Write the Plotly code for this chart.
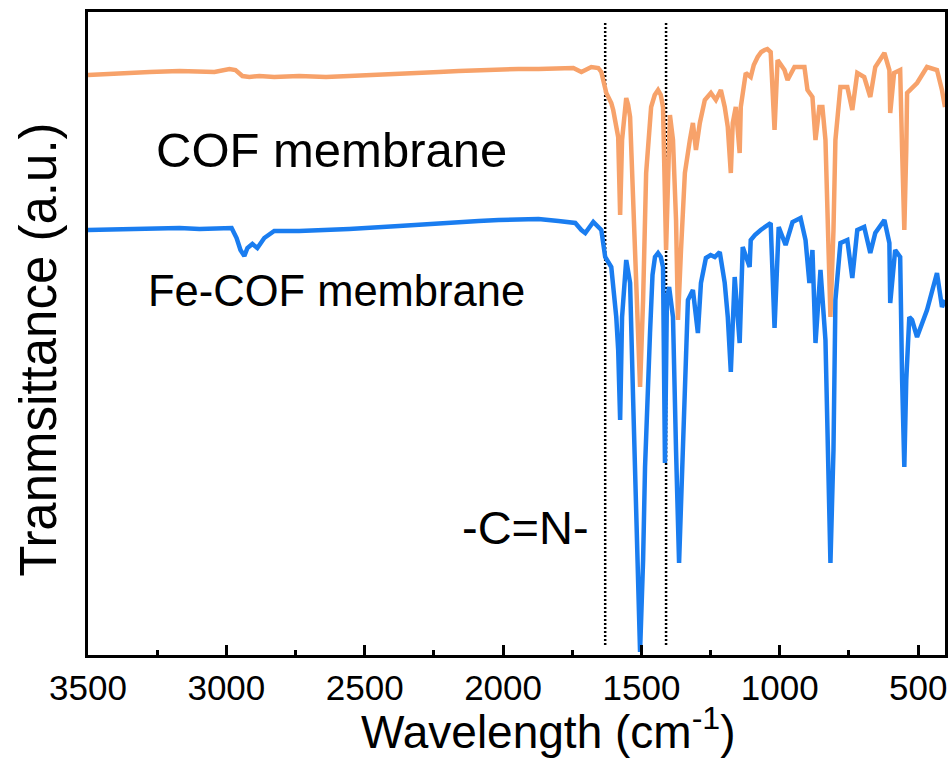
import plotly.graph_objects as go

# ---- data (wavenumber in cm-1, transmittance in a.u.) ----
cof_wn = [3500, 3385, 3277, 3169, 3097, 3043, 2989, 2967, 2942, 2917, 2881, 2827, 2737, 2640, 2556, 2448,
          2376, 2304, 2232, 2160, 2088, 2016, 1944, 1872, 1800, 1746, 1717, 1681, 1656, 1645, 1627,
          1609, 1602, 1590, 1584, 1577, 1570, 1555, 1548, 1541, 1527, 1515, 1505, 1494, 1483, 1465,
          1452, 1440, 1430, 1422, 1411,
          1397, 1386, 1375, 1368, 1357, 1343, 1325, 1314, 1303, 1289, 1271, 1249, 1231, 1213, 1199,
          1188, 1177, 1170, 1159, 1145, 1141, 1123, 1105, 1094, 1080, 1067, 1055, 1045, 1033, 1019,
          1008, 983, 972, 947, 911, 900, 882, 871, 857, 846, 835, 824, 817, 806, 799, 781, 756, 738,
          720, 695, 673, 655, 622, 604, 601, 587, 565, 558, 550, 543, 540, 504, 468,
          432, 414, 403]
cof_t = [580, 582, 583, 584, 584, 583, 586, 585, 579, 578, 579, 578, 579, 578, 579, 580,
         581, 582, 583, 584, 585, 585, 586, 586, 586, 587, 583, 588, 587, 583, 562,
         552, 545, 530, 518, 440, 515, 557, 550, 538, 425, 330, 268, 355, 482, 548,
         560, 565, 560, 548, 405,
         540, 515, 435, 335, 405, 482, 515, 532, 505, 532, 555, 562, 555, 565, 548,
         528, 482, 532, 548, 502, 548, 582, 578, 590, 598, 603, 605, 606, 603, 525,
         595, 585, 575, 588, 588, 565, 558, 515, 548, 548, 515, 425, 338, 425, 515, 568, 568, 545,
         582, 578, 558, 588, 602, 585, 542, 582, 585, 505, 425, 505, 562, 572, 588,
         585, 565, 548]

fecof_wn = [3500, 3385, 3277, 3169, 3097, 3007, 2981, 2963, 2949, 2935, 2924, 2906, 2888, 2863, 2827,
            2737, 2640, 2556, 2376, 2268, 2196, 2088, 2016, 1944, 1872, 1800, 1739, 1717, 1703, 1674, 1645,
            1631, 1609, 1591, 1584, 1577, 1570, 1555, 1541, 1530, 1519, 1505, 1494, 1487, 1469, 1460,
            1451, 1440, 1430, 1422, 1415, 1408, 1400, 1386, 1375, 1364, 1354, 1343, 1332, 1314, 1296,
            1285, 1267, 1250, 1235, 1217, 1199, 1188, 1177, 1163, 1145, 1134, 1109, 1105, 1090, 1069,
            1045, 1033, 1019, 1004, 979, 954, 925, 907, 893, 882, 871, 853, 835, 824, 817, 806, 799,
            781, 756, 738, 720, 695, 673, 655, 622, 604, 601, 583, 565, 558, 550, 543, 532, 522, 504,
            468, 432, 414, 403]
fecof_t = [425, 426, 427, 427, 426, 427, 427, 417, 405, 399, 407, 411, 407, 417, 424,
           424, 425, 426, 429, 431, 433, 434, 435, 436, 436, 434, 432, 425, 422, 433, 425,
           398, 388, 338, 305, 235, 338, 395, 372, 255, 135, 3, 95, 188, 322, 380,
           398, 402, 398, 388, 192, 355, 368, 338, 205, 92, 175, 255, 355, 365, 322,
           372, 397, 400, 398, 403, 372, 338, 283, 378, 312, 408, 388, 415, 420, 425,
           430, 432, 327, 428, 410, 433, 437, 415, 372, 405, 312, 385, 315, 175, 92, 205, 355,
           412, 415, 377, 425, 428, 402, 422, 435, 412, 352, 405, 398, 275, 188, 275, 338, 335, 318,
           345, 382, 348, 355]

marker_wn = [1631, 1411]          # dotted reference lines
marker_span = [10, 633]           # vertical extent of dotted lines (a.u.)
x_ticks = [3500, 3000, 2500, 2000, 1500, 1000, 500]

series_names = ["COF membrane", "Fe-COF membrane"]
colors = ["#F7A26A", "#1A7DF0"]

FONT = "Arial, Liberation Sans, sans-serif"

fig = go.Figure()

for wn in marker_wn:
    fig.add_trace(go.Scatter(x=[wn, wn], y=marker_span, mode="lines",
                             line=dict(color="black", width=2.5, dash="2px,2px"),
                             showlegend=False, hoverinfo="skip"))

fig.add_trace(go.Scatter(x=cof_wn, y=cof_t, mode="lines", name=series_names[0],
                         line=dict(color=colors[0], width=4.5), showlegend=False))
fig.add_trace(go.Scatter(x=fecof_wn, y=fecof_t, mode="lines", name=series_names[1],
                         line=dict(color=colors[1], width=4.5), showlegend=False))

fig.update_xaxes(range=[3500, 403], tickvals=x_ticks, ticks="inside", ticklen=10, tickwidth=3,
                 tickcolor="black", minor=dict(dtick=250, ticks="inside", ticklen=5, tickwidth=3,
                                               tickcolor="black", tick0=500),
                 showline=True, linewidth=3, linecolor="black", mirror=True,
                 showgrid=False, zeroline=False, ticklabelstandoff=0,
                 tickfont=dict(family=FONT, size=35, color="black"))
fig.update_yaxes(range=[0, 643], showticklabels=False, ticks="", showline=True, linewidth=3,
                 linecolor="black", mirror=True, showgrid=False, zeroline=False)

annots = [
    dict(x=3262, y=505, xref="x", yref="y", text=series_names[0], xanchor="left", yanchor="middle",
         font=dict(family=FONT, size=49, color="black"), showarrow=False),
    dict(x=3290, y=364, xref="x", yref="y", text=series_names[1], xanchor="left", yanchor="middle",
         font=dict(family=FONT, size=43.5, color="black"), showarrow=False),
    dict(x=1681, y=128, xref="x", yref="y", text="-C=N-", xanchor="right", yanchor="middle",
         font=dict(family=FONT, size=47, color="black"), showarrow=False),
    dict(x=0.537, y=-0.115, xref="paper", yref="paper", text="Wavelength (cm<sup>-1</sup>)",
         xanchor="center", yanchor="middle", font=dict(family=FONT, size=46, color="black"),
         showarrow=False),
    dict(x=-0.058, y=0.475, xref="paper", yref="paper", text="Tranmsittance (a.u.)", textangle=-90,
         xanchor="center", yanchor="middle", font=dict(family=FONT, size=51, color="black"),
         showarrow=False),
]
fig.update_layout(width=952, height=769, margin=dict(l=88, r=4, t=12, b=114),
                  plot_bgcolor="white", paper_bgcolor="white", annotations=annots,
                  showlegend=False)

fig.write_html("out.html")
